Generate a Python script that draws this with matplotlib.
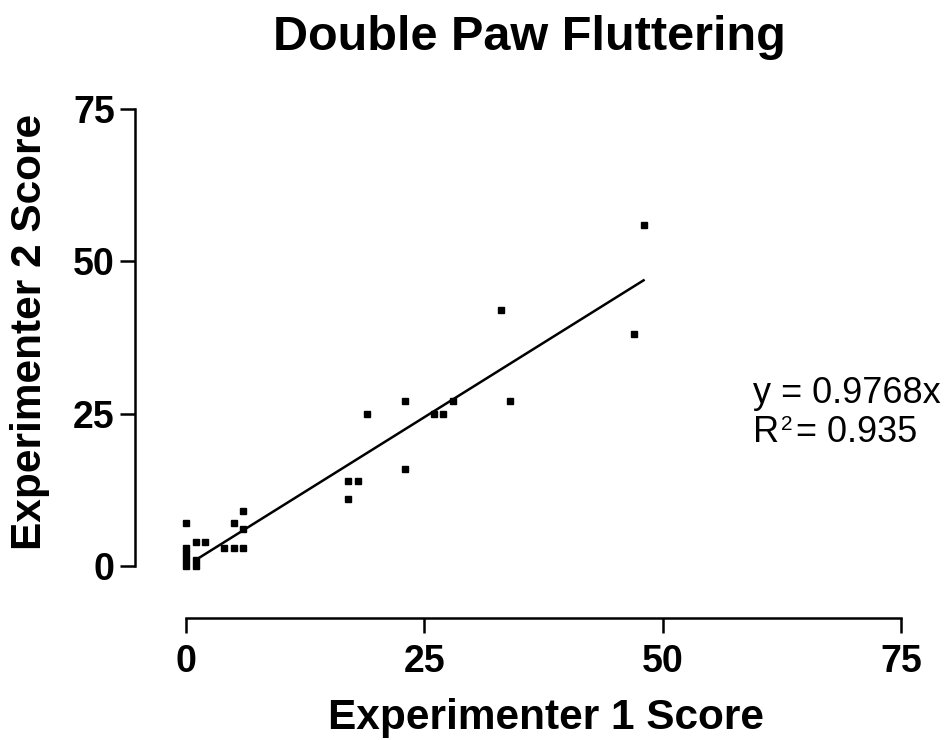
import matplotlib
matplotlib.use("Agg")
import matplotlib.pyplot as plt
import numpy as np

plt.rcParams['font.family'] = ['Liberation Sans', 'DejaVu Sans']
plt.rcParams['mathtext.fontset'] = 'custom'
plt.rcParams['mathtext.rm'] = 'Liberation Sans'
plt.rcParams['mathtext.it'] = 'Liberation Sans'
plt.rcParams['mathtext.bf'] = 'Liberation Sans:bold'

title = "Double Paw Fluttering"
xlabel = "Experimenter 1 Score"
ylabel = "Experimenter 2 Score"
ticks = [0, 25, 50, 75]

exp1 = [0, 0, 0, 0, 0, 1, 1, 1, 2, 4, 5, 5, 6, 6, 6,
        17, 17, 18, 19, 23, 23, 26, 27, 28, 33, 34, 47, 48]
exp2 = [0, 1, 2, 3, 7, 0, 1, 4, 4, 3, 3, 7, 3, 6, 9,
        11, 14, 14, 25, 16, 27, 25, 25, 27, 42, 27, 38, 56]
slope = 0.9768
r2 = 0.935
fit_x = [1, 48]

fig = plt.figure(figsize=(9.45, 7.4), dpi=100)
ax = fig.add_axes([0.1968, 0.2351, 0.7566, 0.6176])

ax.plot(exp1, exp2, 's', color='black', ms=5, clip_on=False, zorder=3)
fx = np.array(fit_x, dtype=float)
ax.plot(fx, slope * fx, color='black', lw=1.8, clip_on=False)

ax.set_xlim(0, 75)
ax.set_ylim(0, 75)
ax.set_xticks(ticks)
ax.set_yticks(ticks)
for side in ['top', 'right']:
    ax.spines[side].set_visible(False)
ax.spines['left'].set_position(('outward', 36.7))
ax.spines['bottom'].set_position(('outward', 37.4))
ax.spines['left'].set_bounds(0, 75)
ax.spines['bottom'].set_bounds(0, 75)
for side in ['left', 'bottom']:
    ax.spines[side].set_linewidth(1.8)
ax.tick_params(axis='both', width=1.8, length=10.5, labelsize=27)
ax.tick_params(axis='x', pad=8)
ax.tick_params(axis='y', pad=4)
for lab in ax.get_xticklabels() + ax.get_yticklabels():
    lab.set_fontweight('bold')

fig.text(0.5603, 0.949, title, ha='center', va='center', fontsize=35, fontweight='bold')
fig.text(0.5778, 0.030, xlabel, ha='center', va='center', fontsize=30.5, fontweight='bold')
fig.text(0.032, 0.551, ylabel, ha='center', va='center', fontsize=30.5, fontweight='bold', rotation=90)

fig.text(0.797, 0.4554, f"y = {slope}x", ha='left', va='baseline', fontsize=26)
fig.text(0.797, 0.4027, "R", ha='left', va='baseline', fontsize=26)
fig.text(0.826, 0.4195, "2", ha='left', va='baseline', fontsize=15)
fig.text(0.842, 0.4027, f"= {r2}", ha='left', va='baseline', fontsize=26)

fig.savefig("out.png", dpi=100)
